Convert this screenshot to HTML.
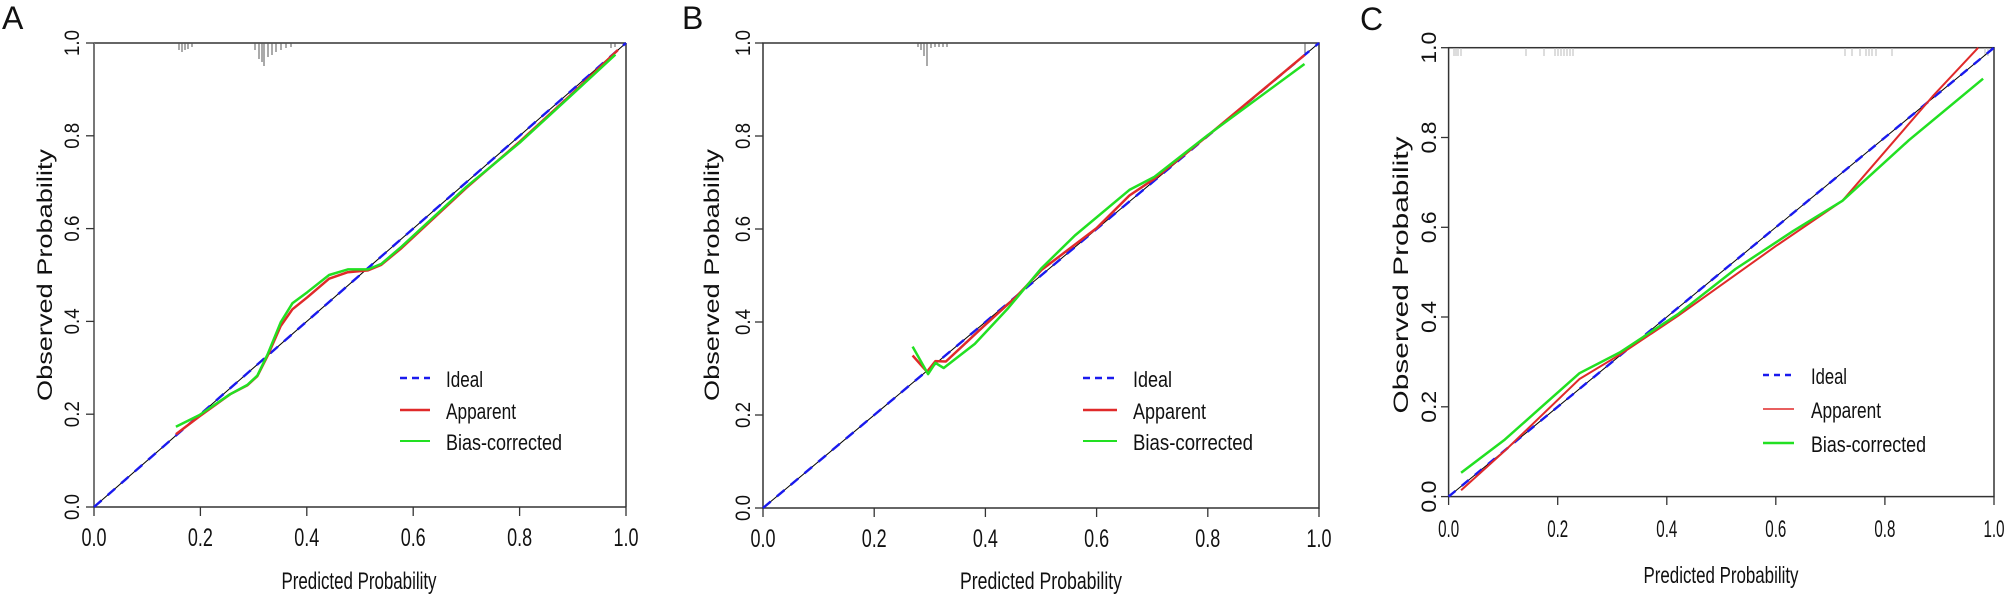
<!DOCTYPE html>
<html><head><meta charset="utf-8"><style>
html,body{margin:0;padding:0;background:#fff;}
svg{display:block;}
text{font-family:"Liberation Sans",sans-serif;fill:#111;}
</style></head><body>
<svg width="2006" height="594" viewBox="0 0 2006 594" xmlns="http://www.w3.org/2000/svg">
<!-- ===== Panel A ===== -->
<text x="2" y="29" font-size="32">A</text>
<g fill="none" stroke="#333" stroke-width="1.5">
<line x1="94" y1="43" x2="626" y2="43"/>
<line x1="626" y1="43" x2="626" y2="507"/>
<line x1="94" y1="507" x2="626" y2="507"/>
</g>
<line x1="94" y1="43" x2="94" y2="507" stroke="#777" stroke-width="2"/>
<g stroke="#333" stroke-width="1.3">
<line x1="94" y1="507" x2="94" y2="516"/><line x1="200.4" y1="507" x2="200.4" y2="516"/><line x1="306.8" y1="507" x2="306.8" y2="516"/><line x1="413.2" y1="507" x2="413.2" y2="516"/><line x1="519.6" y1="507" x2="519.6" y2="516"/><line x1="626" y1="507" x2="626" y2="516"/>
<line x1="86" y1="507" x2="94" y2="507"/><line x1="86" y1="414.2" x2="94" y2="414.2"/><line x1="86" y1="321.4" x2="94" y2="321.4"/><line x1="86" y1="228.6" x2="94" y2="228.6"/><line x1="86" y1="135.8" x2="94" y2="135.8"/><line x1="86" y1="43" x2="94" y2="43"/>
</g>
<g font-size="25" text-anchor="middle">
<text x="94" y="546" textLength="25" lengthAdjust="spacingAndGlyphs">0.0</text>
<text x="200.4" y="546" textLength="25" lengthAdjust="spacingAndGlyphs">0.2</text>
<text x="306.8" y="546" textLength="25" lengthAdjust="spacingAndGlyphs">0.4</text>
<text x="413.2" y="546" textLength="25" lengthAdjust="spacingAndGlyphs">0.6</text>
<text x="519.6" y="546" textLength="25" lengthAdjust="spacingAndGlyphs">0.8</text>
<text x="626" y="546" textLength="25" lengthAdjust="spacingAndGlyphs">1.0</text>
</g>
<text x="359" y="589" font-size="24" text-anchor="middle" textLength="155" lengthAdjust="spacingAndGlyphs">Predicted Probability</text>
<g font-size="21" text-anchor="middle">
<text transform="translate(79,507) rotate(-90)" textLength="26" lengthAdjust="spacingAndGlyphs">0.0</text>
<text transform="translate(79,414.2) rotate(-90)" textLength="26" lengthAdjust="spacingAndGlyphs">0.2</text>
<text transform="translate(79,321.4) rotate(-90)" textLength="26" lengthAdjust="spacingAndGlyphs">0.4</text>
<text transform="translate(79,228.6) rotate(-90)" textLength="26" lengthAdjust="spacingAndGlyphs">0.6</text>
<text transform="translate(79,135.8) rotate(-90)" textLength="26" lengthAdjust="spacingAndGlyphs">0.8</text>
<text transform="translate(79,43) rotate(-90)" textLength="26" lengthAdjust="spacingAndGlyphs">1.0</text>
<text transform="translate(52,275) rotate(-90)" textLength="252" lengthAdjust="spacingAndGlyphs">Observed  Probability</text>
</g>
<g stroke="#555" stroke-width="1">
<line x1="179" y1="43" x2="179" y2="50"/><line x1="182" y1="43" x2="182" y2="52"/><line x1="185" y1="43" x2="185" y2="50"/><line x1="188" y1="43" x2="188" y2="49"/><line x1="192" y1="43" x2="192" y2="47"/>
<line x1="255" y1="43" x2="255" y2="50"/><line x1="259" y1="43" x2="259" y2="59"/><line x1="262" y1="43" x2="262" y2="62"/><line x1="264" y1="43" x2="264" y2="66"/><line x1="268" y1="43" x2="268" y2="57"/><line x1="272" y1="43" x2="272" y2="55"/><line x1="276" y1="43" x2="276" y2="52"/><line x1="281" y1="43" x2="281" y2="50"/><line x1="286" y1="43" x2="286" y2="48"/><line x1="291" y1="43" x2="291" y2="47"/>
<line x1="611" y1="43" x2="611" y2="48"/><line x1="615" y1="43" x2="615" y2="47"/>
</g>
<line x1="94" y1="507" x2="626" y2="43" stroke="#000" stroke-width="1"/>
<line x1="94" y1="507" x2="626" y2="43" stroke="#1a1aee" stroke-width="2.4" stroke-dasharray="10,8"/>
<polyline fill="none" stroke="#e02a2a" stroke-width="2.5" stroke-linejoin="round" points="175.9,434.2 199.3,416.5 230.2,394.2 247.2,385.4 257.3,376.2 267.4,356.2 280.7,326 292.4,309.3 307.3,297.3 329.1,278.7 347.8,272.2 368,270.4 381.3,264.8 401.5,248.1 466.4,187.8 519.6,141.8 572.8,93.1 618,49.9"/>
<polyline fill="none" stroke="#22e022" stroke-width="2.5" stroke-linejoin="round" points="175.9,426.7 199.3,415.1 230.2,394.2 247.2,385 257.3,375.7 267.4,354.8 280.7,322.3 292.4,303.3 307.3,292.2 329.1,275 347.8,269.4 368,269.4 381.3,263.9 401.5,246.7 466.4,186.8 519.6,142.8 572.8,94 615.4,54.6"/>
<line x1="400" y1="378" x2="430" y2="378" stroke="#1a1aee" stroke-width="2.5" stroke-dasharray="7,5"/>
<line x1="400" y1="410" x2="430" y2="410" stroke="#e02a2a" stroke-width="2.5"/>
<line x1="400" y1="441" x2="430" y2="441" stroke="#22e022" stroke-width="2"/>
<g font-size="22">
<text x="446" y="387" textLength="37" lengthAdjust="spacingAndGlyphs">Ideal</text>
<text x="446" y="419" textLength="70" lengthAdjust="spacingAndGlyphs">Apparent</text>
<text x="446" y="450" textLength="116" lengthAdjust="spacingAndGlyphs">Bias-corrected</text>
</g>

<!-- ===== Panel B ===== -->
<text x="682" y="29" font-size="32">B</text>
<rect x="763" y="43" width="556" height="465" fill="none" stroke="#333" stroke-width="1.5"/>
<g stroke="#333" stroke-width="1.3">
<line x1="763" y1="508" x2="763" y2="517"/><line x1="874.2" y1="508" x2="874.2" y2="517"/><line x1="985.4" y1="508" x2="985.4" y2="517"/><line x1="1096.6" y1="508" x2="1096.6" y2="517"/><line x1="1207.8" y1="508" x2="1207.8" y2="517"/><line x1="1319" y1="508" x2="1319" y2="517"/>
<line x1="755" y1="508" x2="763" y2="508"/><line x1="755" y1="415" x2="763" y2="415"/><line x1="755" y1="322" x2="763" y2="322"/><line x1="755" y1="229" x2="763" y2="229"/><line x1="755" y1="136" x2="763" y2="136"/><line x1="755" y1="43" x2="763" y2="43"/>
</g>
<g font-size="25" text-anchor="middle">
<text x="763" y="547" textLength="25" lengthAdjust="spacingAndGlyphs">0.0</text>
<text x="874.2" y="547" textLength="25" lengthAdjust="spacingAndGlyphs">0.2</text>
<text x="985.4" y="547" textLength="25" lengthAdjust="spacingAndGlyphs">0.4</text>
<text x="1096.6" y="547" textLength="25" lengthAdjust="spacingAndGlyphs">0.6</text>
<text x="1207.8" y="547" textLength="25" lengthAdjust="spacingAndGlyphs">0.8</text>
<text x="1319" y="547" textLength="25" lengthAdjust="spacingAndGlyphs">1.0</text>
</g>
<text x="1041" y="589" font-size="24" text-anchor="middle" textLength="162" lengthAdjust="spacingAndGlyphs">Predicted Probability</text>
<g font-size="21" text-anchor="middle">
<text transform="translate(750,508) rotate(-90)" textLength="26" lengthAdjust="spacingAndGlyphs">0.0</text>
<text transform="translate(750,415) rotate(-90)" textLength="26" lengthAdjust="spacingAndGlyphs">0.2</text>
<text transform="translate(750,322) rotate(-90)" textLength="26" lengthAdjust="spacingAndGlyphs">0.4</text>
<text transform="translate(750,229) rotate(-90)" textLength="26" lengthAdjust="spacingAndGlyphs">0.6</text>
<text transform="translate(750,136) rotate(-90)" textLength="26" lengthAdjust="spacingAndGlyphs">0.8</text>
<text transform="translate(750,43) rotate(-90)" textLength="26" lengthAdjust="spacingAndGlyphs">1.0</text>
<text transform="translate(719,275) rotate(-90)" textLength="252" lengthAdjust="spacingAndGlyphs">Observed  Probability</text>
</g>
<g stroke="#555" stroke-width="1">
<line x1="918" y1="43" x2="918" y2="47"/><line x1="921" y1="43" x2="921" y2="50"/><line x1="924" y1="43" x2="924" y2="56"/><line x1="927" y1="43" x2="927" y2="66"/><line x1="931" y1="43" x2="931" y2="48"/><line x1="935" y1="43" x2="935" y2="47"/><line x1="939" y1="43" x2="939" y2="47"/><line x1="943" y1="43" x2="943" y2="47"/><line x1="947" y1="43" x2="947" y2="47"/>
<line x1="1305" y1="43" x2="1305" y2="55"/>
</g>
<line x1="763" y1="508" x2="1319" y2="43" stroke="#000" stroke-width="1"/>
<line x1="763" y1="508" x2="1319" y2="43" stroke="#1a1aee" stroke-width="2.4" stroke-dasharray="10,8"/>
<polyline fill="none" stroke="#e02a2a" stroke-width="2.5" stroke-linejoin="round" points="912.6,355.5 927,371.8 935.4,361.1 945.9,361.5 983.2,326.7 1016.5,296.4 1041.6,269.9 1096.6,228.1 1129.4,195.5 1154.4,178.8 1208.4,135.1 1304.5,55.1"/>
<polyline fill="none" stroke="#22e022" stroke-width="2.5" stroke-linejoin="round" points="912.6,346.6 928.1,374.1 935.4,362.9 943.7,368 974.8,343.9 1008.2,308.1 1041.6,268.1 1074.9,235.5 1129.4,189.9 1154.4,176.9 1207.8,135.1 1304.5,64"/>
<line x1="1083" y1="378" x2="1117" y2="378" stroke="#1a1aee" stroke-width="2.5" stroke-dasharray="7,5"/>
<line x1="1083" y1="410" x2="1117" y2="410" stroke="#e02a2a" stroke-width="2.5"/>
<line x1="1083" y1="441" x2="1117" y2="441" stroke="#22e022" stroke-width="2"/>
<g font-size="22">
<text x="1133" y="387" textLength="39" lengthAdjust="spacingAndGlyphs">Ideal</text>
<text x="1133" y="419" textLength="73" lengthAdjust="spacingAndGlyphs">Apparent</text>
<text x="1133" y="450" textLength="120" lengthAdjust="spacingAndGlyphs">Bias-corrected</text>
</g>

<!-- ===== Panel C ===== -->
<text x="1360" y="30" font-size="32">C</text>
<rect x="1448.6" y="47.7" width="545.4" height="448.9" fill="none" stroke="#333" stroke-width="1.5"/>
<g stroke="#333" stroke-width="1.3">
<line x1="1448.6" y1="496.6" x2="1448.6" y2="505"/><line x1="1557.7" y1="496.6" x2="1557.7" y2="505"/><line x1="1666.8" y1="496.6" x2="1666.8" y2="505"/><line x1="1775.8" y1="496.6" x2="1775.8" y2="505"/><line x1="1884.9" y1="496.6" x2="1884.9" y2="505"/><line x1="1994" y1="496.6" x2="1994" y2="505"/>
<line x1="1441" y1="496.6" x2="1448.6" y2="496.6"/><line x1="1441" y1="406.8" x2="1448.6" y2="406.8"/><line x1="1441" y1="317" x2="1448.6" y2="317"/><line x1="1441" y1="227.3" x2="1448.6" y2="227.3"/><line x1="1441" y1="137.5" x2="1448.6" y2="137.5"/><line x1="1441" y1="47.7" x2="1448.6" y2="47.7"/>
</g>
<g font-size="24" text-anchor="middle">
<text x="1448.6" y="537" textLength="21" lengthAdjust="spacingAndGlyphs">0.0</text>
<text x="1557.7" y="537" textLength="21" lengthAdjust="spacingAndGlyphs">0.2</text>
<text x="1666.8" y="537" textLength="21" lengthAdjust="spacingAndGlyphs">0.4</text>
<text x="1775.8" y="537" textLength="21" lengthAdjust="spacingAndGlyphs">0.6</text>
<text x="1884.9" y="537" textLength="21" lengthAdjust="spacingAndGlyphs">0.8</text>
<text x="1994" y="537" textLength="21" lengthAdjust="spacingAndGlyphs">1.0</text>
</g>
<text x="1721" y="583" font-size="23" text-anchor="middle" textLength="155" lengthAdjust="spacingAndGlyphs">Predicted Probability</text>
<g font-size="21" text-anchor="middle">
<text transform="translate(1436,496.6) rotate(-90)" textLength="32" lengthAdjust="spacingAndGlyphs">0.0</text>
<text transform="translate(1436,406.8) rotate(-90)" textLength="32" lengthAdjust="spacingAndGlyphs">0.2</text>
<text transform="translate(1436,317) rotate(-90)" textLength="32" lengthAdjust="spacingAndGlyphs">0.4</text>
<text transform="translate(1436,227.3) rotate(-90)" textLength="32" lengthAdjust="spacingAndGlyphs">0.6</text>
<text transform="translate(1436,137.5) rotate(-90)" textLength="32" lengthAdjust="spacingAndGlyphs">0.8</text>
<text transform="translate(1436,47.7) rotate(-90)" textLength="32" lengthAdjust="spacingAndGlyphs">1.0</text>
<text transform="translate(1408,275) rotate(-90)" textLength="277" lengthAdjust="spacingAndGlyphs">Observed  Probability</text>
</g>
<g stroke="#bbb" stroke-width="1">
<line x1="1454" y1="48" x2="1454" y2="56"/><line x1="1456" y1="48" x2="1456" y2="56"/><line x1="1458" y1="48" x2="1458" y2="56"/><line x1="1461" y1="48" x2="1461" y2="56"/>
<line x1="1526" y1="48" x2="1526" y2="56"/><line x1="1544" y1="48" x2="1544" y2="56"/><line x1="1555" y1="48" x2="1555" y2="56"/><line x1="1558" y1="48" x2="1558" y2="56"/><line x1="1561" y1="48" x2="1561" y2="56"/><line x1="1564" y1="48" x2="1564" y2="56"/><line x1="1567" y1="48" x2="1567" y2="56"/><line x1="1570" y1="48" x2="1570" y2="56"/><line x1="1573" y1="48" x2="1573" y2="56"/>
<line x1="1845" y1="48" x2="1845" y2="56"/><line x1="1852" y1="48" x2="1852" y2="56"/><line x1="1860" y1="48" x2="1860" y2="56"/><line x1="1866" y1="48" x2="1866" y2="56"/><line x1="1869" y1="48" x2="1869" y2="56"/><line x1="1872" y1="48" x2="1872" y2="56"/><line x1="1876" y1="48" x2="1876" y2="56"/><line x1="1892" y1="48" x2="1892" y2="56"/>
<line x1="1985" y1="48" x2="1985" y2="56"/><line x1="1988" y1="48" x2="1988" y2="56"/>
</g>
<line x1="1448.6" y1="496.6" x2="1994" y2="47.7" stroke="#000" stroke-width="1"/>
<line x1="1448.6" y1="496.6" x2="1994" y2="47.7" stroke="#1a1aee" stroke-width="2.4" stroke-dasharray="9,8"/>
<polyline fill="none" stroke="#e02a2a" stroke-width="2" stroke-linejoin="round" points="1461.1,490.3 1504.8,450.8 1579.5,379 1620.4,354.3 1677.7,316.1 1775.8,246.1 1842.4,200.8 1932.4,96.6 1978.2,47.7"/>
<polyline fill="none" stroke="#22e022" stroke-width="2.5" stroke-linejoin="round" points="1461.1,472.8 1504.8,439.6 1539.1,409.1 1579.5,373.2 1620.4,352.1 1677.7,314.3 1735.5,269 1793.3,230.9 1842.4,200.8 1908.9,140.2 1983.1,78.7"/>
<line x1="1763" y1="375" x2="1794" y2="375" stroke="#1a1aee" stroke-width="2.5" stroke-dasharray="6,5"/>
<line x1="1763" y1="409" x2="1794" y2="409" stroke="#e02a2a" stroke-width="1.5"/>
<line x1="1763" y1="443" x2="1794" y2="443" stroke="#22e022" stroke-width="2.5"/>
<g font-size="22">
<text x="1811" y="384" textLength="36" lengthAdjust="spacingAndGlyphs">Ideal</text>
<text x="1811" y="418" textLength="70" lengthAdjust="spacingAndGlyphs">Apparent</text>
<text x="1811" y="452" textLength="115" lengthAdjust="spacingAndGlyphs">Bias-corrected</text>
</g>
</svg>
</body></html>
